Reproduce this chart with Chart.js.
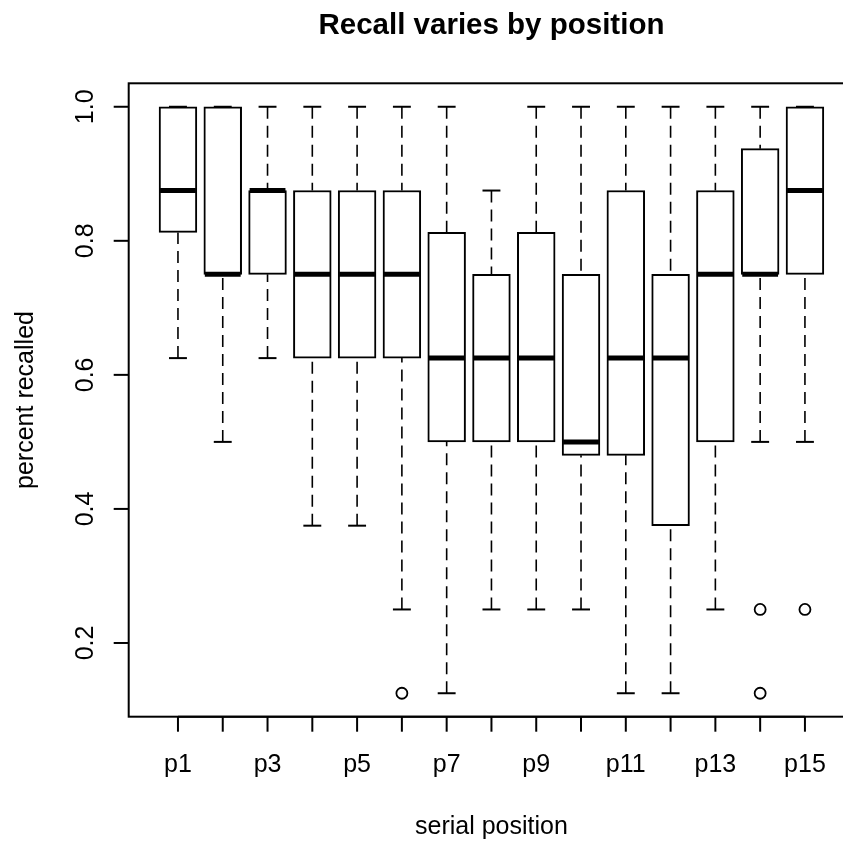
<!DOCTYPE html>
<html>
<head>
<meta charset="utf-8">
<script src="https://cdn.jsdelivr.net/npm/chart.js@4"></script>
<style>
  html, body { margin: 0; padding: 0; background: #fff; overflow: hidden; }
  #wrap { width: 880px; height: 841px; }
</style>
</head>
<body>
<div id="wrap"><canvas id="recallChart" width="880" height="841"></canvas></div>
<script>
// boxplot stats (Tukey hinges, whiskers, outliers)
const categories = ['p1', 'p2', 'p3', 'p4', 'p5', 'p6', 'p7', 'p8', 'p9', 'p10', 'p11', 'p12', 'p13', 'p14', 'p15'];
const whiskerLow = [0.625, 0.5, 0.625, 0.375, 0.375, 0.25, 0.125, 0.25, 0.25, 0.25, 0.125, 0.125, 0.25, 0.5, 0.5];
const lowerQuartile = [0.8125, 0.75, 0.75, 0.625, 0.625, 0.625, 0.5, 0.5, 0.5, 0.48, 0.48, 0.375, 0.5, 0.75, 0.75];
const medians = [0.875, 0.75, 0.875, 0.75, 0.75, 0.75, 0.625, 0.625, 0.625, 0.5, 0.625, 0.625, 0.75, 0.75, 0.875];
const upperQuartile = [1, 1, 0.875, 0.875, 0.875, 0.875, 0.8125, 0.75, 0.8125, 0.75, 0.875, 0.75, 0.875, 0.9375, 1];
const whiskerHigh = [1, 1, 1, 1, 1, 1, 1, 0.875, 1, 1, 1, 1, 1, 1, 1];
const outlierCats = ['p6', 'p14', 'p14', 'p15'];
const outlierValues = [0.125, 0.25, 0.125, 0.25];
const yTicks = [0.2, 0.4, 0.6, 0.8, 1.0];

const FONT = '"Liberation Sans", Arial, Helvetica, sans-serif';

// whiskers, staples, medians, axes and titles drawn with the chart's scales
const boxExtras = {
    id: 'boxExtras',
    afterDatasetsDraw(chart) {
        const { ctx, scales: { x, y } } = chart;
        const boxW = (x.getPixelForValue(1.4) - x.getPixelForValue(0.6));
        ctx.save();
        ctx.strokeStyle = '#000';
        categories.forEach((c, i) => {
            const px = x.getPixelForValue(i + 1);
            // dashed whiskers
            ctx.lineWidth = 1.6;
            ctx.setLineDash([12, 7]);
            [[whiskerLow[i], lowerQuartile[i]], [whiskerHigh[i], upperQuartile[i]]].forEach(([a, b]) => {
                if (a === b) return;
                ctx.beginPath();
                ctx.moveTo(px, y.getPixelForValue(a));
                ctx.lineTo(px, y.getPixelForValue(b));
                ctx.stroke();
            });
            ctx.setLineDash([]);
            // staples
            ctx.lineWidth = 2;
            [whiskerLow[i], whiskerHigh[i]].forEach(v => {
                const py = y.getPixelForValue(v);
                ctx.beginPath();
                ctx.moveTo(px - boxW / 4, py);
                ctx.lineTo(px + boxW / 4, py);
                ctx.stroke();
            });
            // median
            ctx.lineWidth = 5;
            ctx.lineCap = 'butt';
            const my = y.getPixelForValue(medians[i]);
            ctx.beginPath();
            ctx.moveTo(px - boxW / 2, my);
            ctx.lineTo(px + boxW / 2, my);
            ctx.stroke();
        });
        ctx.restore();
    },
    afterDraw(chart) {
        const { ctx, chartArea: a, scales: { x, y } } = chart;
        ctx.save();
        ctx.strokeStyle = '#000';
        ctx.fillStyle = '#000';
        ctx.lineWidth = 2;
        ctx.strokeRect(a.left, a.top, a.right - a.left, a.bottom - a.top);

        // x axis ticks + labels
        ctx.font = '25px ' + FONT;
        ctx.textAlign = 'center';
        ctx.textBaseline = 'alphabetic';
        categories.forEach((c, i) => {
            const px = x.getPixelForValue(i + 1);
            ctx.beginPath();
            ctx.moveTo(px, a.bottom);
            ctx.lineTo(px, a.bottom + 15);
            ctx.stroke();
            if (i % 2 === 0) ctx.fillText(c, px, 772);
        });
        ctx.beginPath();
        ctx.moveTo(x.getPixelForValue(1), a.bottom);
        ctx.lineTo(x.getPixelForValue(15), a.bottom);
        ctx.stroke();

        // y axis ticks + rotated labels
        yTicks.forEach(v => {
            const py = y.getPixelForValue(v);
            ctx.beginPath();
            ctx.moveTo(a.left, py);
            ctx.lineTo(a.left - 15, py);
            ctx.stroke();
            ctx.save();
            ctx.translate(92.5, py);
            ctx.rotate(-Math.PI / 2);
            ctx.fillText(v.toFixed(1), 0, 0);
            ctx.restore();
        });

        // axis titles
        const cx = (a.left + a.right) / 2;
        const cy = (a.top + a.bottom) / 2;
        ctx.fillText('serial position', cx, 834);
        ctx.save();
        ctx.translate(33, cy);
        ctx.rotate(-Math.PI / 2);
        ctx.fillText('percent recalled', 0, 0);
        ctx.restore();

        // main title
        ctx.font = 'bold 29.5px ' + FONT;
        ctx.fillText('Recall varies by position', cx, 34);
        ctx.restore();
    }
};

const ctx = document.getElementById('recallChart').getContext('2d');
const recallChart = new Chart(ctx, {
    type: 'bar',
    data: {
        datasets: [{
            type: 'bar',
            data: categories.map((c, i) => ({ x: i + 1, y: [lowerQuartile[i], upperQuartile[i]] })),
            backgroundColor: '#fff',
            borderColor: '#000',
            borderWidth: 2,
            borderSkipped: false,
            barThickness: 37.8,
            grouped: false
        }, {
            type: 'scatter',
            data: outlierCats.map((c, i) => ({ x: categories.indexOf(c) + 1, y: outlierValues[i] })),
            pointStyle: 'circle',
            pointRadius: 5.5,
            borderColor: '#000',
            borderWidth: 1.8,
            backgroundColor: 'rgba(0,0,0,0)'
        }]
    },
    options: {
        responsive: false,
        animation: false,
        layout: {
            padding: { left: 128.7, top: 83.3, right: 880 - 854.2, bottom: 841 - 716.7 }
        },
        scales: {
            x: { type: 'linear', min: -0.1, max: 16.1, offset: false, display: false },
            y: { type: 'linear', min: 0.09, max: 1.035, display: false }
        },
        plugins: {
            legend: { display: false },
            tooltip: { enabled: false }
        }
    },
    plugins: [boxExtras]
});
</script>
</body>
</html>
